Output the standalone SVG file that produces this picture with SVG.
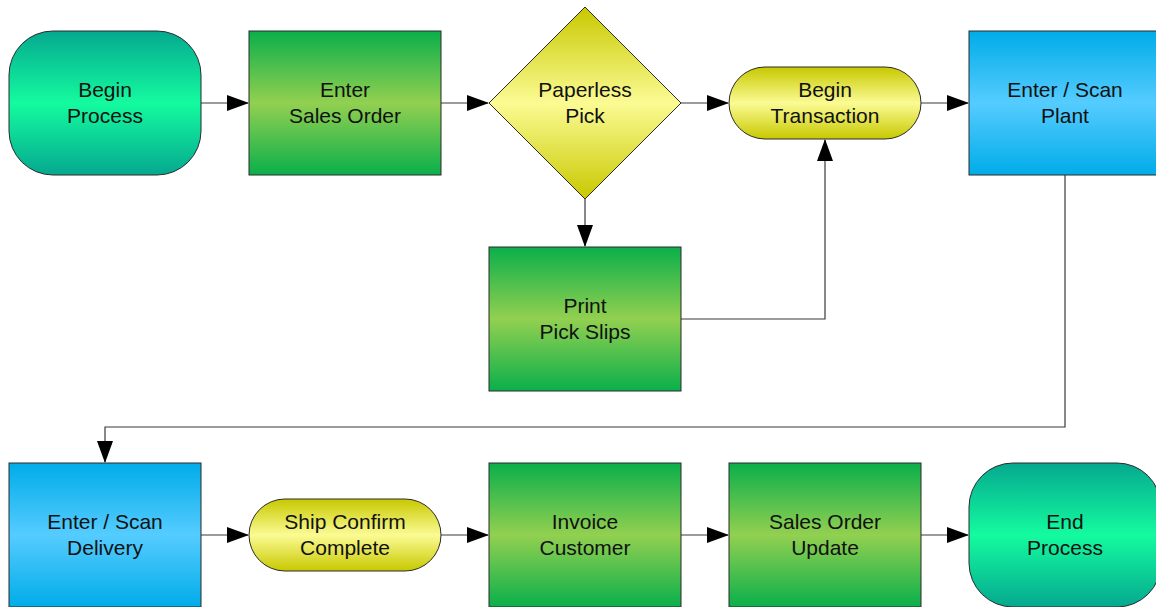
<svg xmlns="http://www.w3.org/2000/svg" width="1156" height="607" viewBox="0 0 1156 607">
<style>
.n{stroke:#2b2b2b;stroke-width:1}
.t{font-family:"Liberation Sans",Arial,sans-serif;font-size:21px;fill:#111;text-anchor:middle}
.c{fill:none;stroke:#3a3a3a;stroke-width:1.2}
</style>
<defs>
<linearGradient id="gG" x1="0" y1="0" x2="0" y2="1">
<stop offset="0" stop-color="#0aaf4b"/><stop offset="0.5" stop-color="#92d050"/><stop offset="1" stop-color="#0aaf4b"/>
</linearGradient>
<linearGradient id="gT" x1="0" y1="0" x2="0" y2="1">
<stop offset="0" stop-color="#05a88f"/><stop offset="0.5" stop-color="#14fb9f"/><stop offset="1" stop-color="#05a88f"/>
</linearGradient>
<linearGradient id="gY" x1="0" y1="0" x2="0" y2="1">
<stop offset="0" stop-color="#c8c800"/><stop offset="0.5" stop-color="#fbfb94"/><stop offset="1" stop-color="#c8c800"/>
</linearGradient>
<linearGradient id="gB" x1="0" y1="0" x2="0" y2="1">
<stop offset="0" stop-color="#00ace8"/><stop offset="0.5" stop-color="#55ccff"/><stop offset="1" stop-color="#00ace8"/>
</linearGradient>
<marker id="ar" markerWidth="22" markerHeight="16" refX="21" refY="8" orient="auto" markerUnits="userSpaceOnUse">
<path d="M0,0 L22,8 L0,16 Z" fill="#000"/>
</marker>
</defs>
<g id="connectors">
<path class="c" d="M201,103 H248" marker-end="url(#ar)"/>
<path class="c" d="M441,103 H488" marker-end="url(#ar)"/>
<path class="c" d="M681,103 H728" marker-end="url(#ar)"/>
<path class="c" d="M921,103 H968" marker-end="url(#ar)"/>
<path class="c" d="M585,199 V246" marker-end="url(#ar)"/>
<path class="c" d="M681,319 H825 V140" marker-end="url(#ar)"/>
<path class="c" d="M1065,175 V427 H105 V462" marker-end="url(#ar)"/>
<path class="c" d="M201,535 H248" marker-end="url(#ar)"/>
<path class="c" d="M441,535 H488" marker-end="url(#ar)"/>
<path class="c" d="M681,535 H728" marker-end="url(#ar)"/>
<path class="c" d="M921,535 H968" marker-end="url(#ar)"/>
</g>
<g id="begin-process">
<rect class="n" x="9" y="31" width="192" height="144" rx="44" fill="url(#gT)"/>
<text class="t" x="105" y="97">Begin</text><text class="t" x="105" y="123">Process</text>
</g>
<g id="enter-sales-order">
<rect class="n" x="249" y="31" width="192" height="144" fill="url(#gG)"/>
<text class="t" x="345" y="97">Enter</text><text class="t" x="345" y="123">Sales Order</text>
</g>
<g id="paperless-pick">
<path class="n" d="M585,7 L681,103 L585,199 L489,103 Z" fill="url(#gY)"/>
<text class="t" x="585" y="97">Paperless</text><text class="t" x="585" y="123">Pick</text>
</g>
<g id="begin-transaction">
<rect class="n" x="729" y="67" width="192" height="72" rx="36" fill="url(#gY)"/>
<text class="t" x="825" y="97">Begin</text><text class="t" x="825" y="123">Transaction</text>
</g>
<g id="enter-scan-plant">
<rect class="n" x="969" y="31" width="192" height="144" fill="url(#gB)"/>
<text class="t" x="1065" y="97">Enter / Scan</text><text class="t" x="1065" y="123">Plant</text>
</g>
<g id="print-pick-slips">
<rect class="n" x="489" y="247" width="192" height="144" fill="url(#gG)"/>
<text class="t" x="585" y="313">Print</text><text class="t" x="585" y="339">Pick Slips</text>
</g>
<g id="enter-scan-delivery">
<rect class="n" x="9" y="463" width="192" height="144" fill="url(#gB)"/>
<text class="t" x="105" y="529">Enter / Scan</text><text class="t" x="105" y="555">Delivery</text>
</g>
<g id="ship-confirm-complete">
<rect class="n" x="249" y="499" width="192" height="72" rx="36" fill="url(#gY)"/>
<text class="t" x="345" y="529">Ship Confirm</text><text class="t" x="345" y="555">Complete</text>
</g>
<g id="invoice-customer">
<rect class="n" x="489" y="463" width="192" height="144" fill="url(#gG)"/>
<text class="t" x="585" y="529">Invoice</text><text class="t" x="585" y="555">Customer</text>
</g>
<g id="sales-order-update">
<rect class="n" x="729" y="463" width="192" height="144" fill="url(#gG)"/>
<text class="t" x="825" y="529">Sales Order</text><text class="t" x="825" y="555">Update</text>
</g>
<g id="end-process">
<rect class="n" x="969" y="463" width="192" height="144" rx="44" fill="url(#gT)"/>
<text class="t" x="1065" y="529">End</text><text class="t" x="1065" y="555">Process</text>
</g>
</svg>
